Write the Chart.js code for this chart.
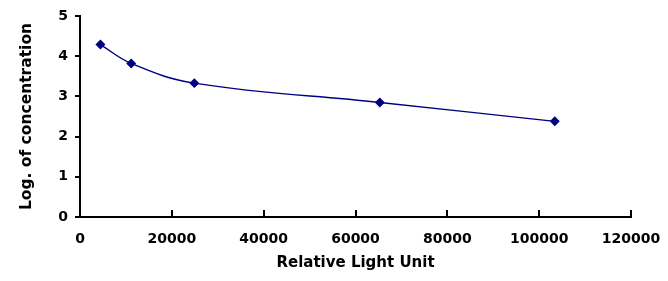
<!DOCTYPE html>
<html>
<head>
<meta charset="utf-8">
<script src="https://cdn.jsdelivr.net/npm/chart.js@4"></script>
<style>
  html, body { margin: 0; padding: 0; background: #fff; }
  canvas { display: block; }
</style>
</head>
<body>
<canvas id="curveChart" width="668" height="281"></canvas>
<script>
// Standard curve readings
const lightUnits = [4450, 11150, 24900, 65300, 103400];
const logConcentration = [4.29, 3.82, 3.33, 2.85, 2.38];
const xTicks = [0, 20000, 40000, 60000, 80000, 100000, 120000];
const yTicks = [0, 1, 2, 3, 4, 5];

const navy = '#000080';
const tickFont = { family: 'DejaVu Sans', size: 14, weight: 'bold' };
const titleFont = { family: 'DejaVu Sans', size: 15, weight: 'bold' };

// x-axis tick marks point inward, Chart.js can't do that by itself
const innerTicks = {
    id: 'innerTicks',
    afterDraw(chart) {
        const x = chart.scales.x;
        const ctx = chart.ctx;
        ctx.save();
        ctx.strokeStyle = '#000';
        ctx.lineWidth = 2;
        x.ticks.forEach(t => {
            const px = Math.round(x.getPixelForValue(t.value));
            ctx.beginPath();
            ctx.moveTo(px, x.top);
            ctx.lineTo(px, x.top - 7);
            ctx.stroke();
        });
        ctx.restore();
    }
};

new Chart(document.getElementById('curveChart'), {
    type: 'line',
    data: {
        datasets: [{
            data: lightUnits.map((x, i) => ({ x: x, y: logConcentration[i] })),
            borderColor: navy,
            borderWidth: 1.4,
            backgroundColor: navy,
            pointBackgroundColor: navy,
            pointBorderColor: navy,
            pointStyle: 'rectRot',
            pointRadius: 4,
            tension: 0.4,
            fill: false
        }]
    },
    options: {
        responsive: false,
        animation: false,
        devicePixelRatio: 1,
        layout: { padding: { top: 16, right: 37, left: 0, bottom: 0 } },
        plugins: { legend: { display: false }, tooltip: { enabled: false } },
        scales: {
            x: {
                type: 'linear',
                min: 0,
                max: 120000,
                afterBuildTicks: s => { s.ticks = xTicks.map(v => ({ value: v })); },
                afterFit: s => { s.height = 64; s.paddingLeft = 0; s.paddingRight = 0; },
                grid: { display: false, drawTicks: false },
                border: { display: true, color: '#000', width: 2 },
                ticks: { color: '#000', font: tickFont, padding: 14, maxRotation: 0, callback: v => String(v) },
                title: { display: true, text: 'Relative Light Unit', color: '#000', font: titleFont, padding: { top: 0, bottom: 9 } }
            },
            y: {
                min: 0,
                max: 5,
                afterBuildTicks: s => { s.ticks = yTicks.map(v => ({ value: v })); },
                afterFit: s => { s.width = 80; s.paddingTop = 0; s.paddingBottom = 0; },
                grid: { display: true, drawOnChartArea: false, drawTicks: true, tickLength: 5, color: '#000', lineWidth: 2 },
                border: { display: true, color: '#000', width: 2 },
                ticks: { color: '#000', font: tickFont, padding: 7, callback: v => String(v) },
                title: { display: true, text: 'Log. of concentration', color: '#000', font: { family: 'DejaVu Sans', size: 15.5, weight: 'bold' }, padding: { top: 18, bottom: 0 } }
            }
        }
    },
    plugins: [innerTicks]
});
</script>
</body>
</html>
